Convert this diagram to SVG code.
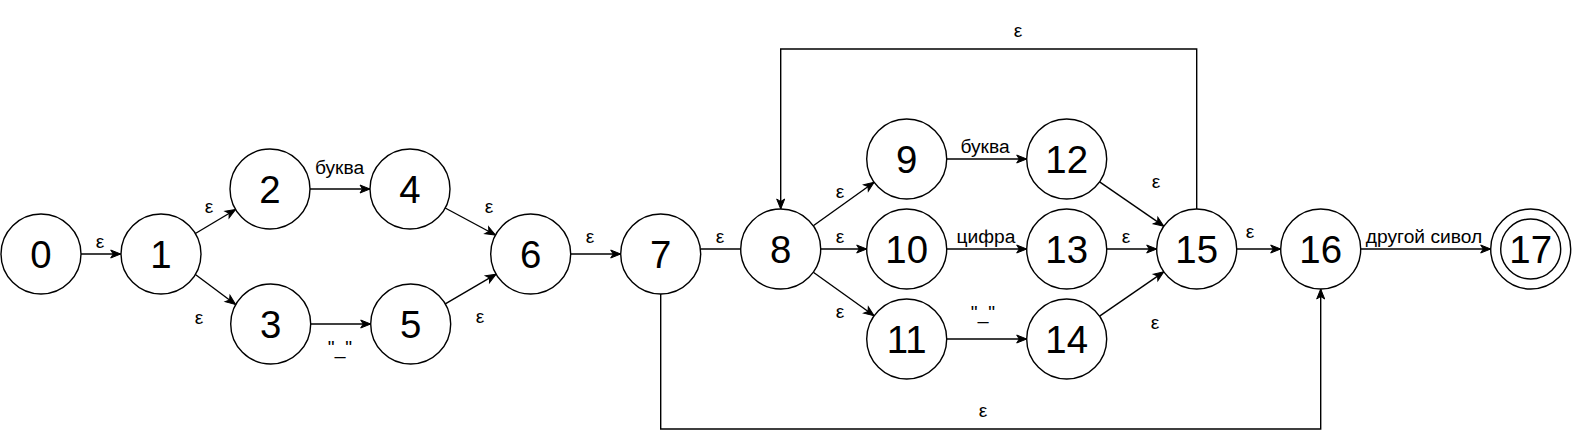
<svg xmlns="http://www.w3.org/2000/svg" width="1572" height="439" viewBox="0 0 1572 439">
<style>
.n{fill:#fff;stroke:#000;stroke-width:1.4}
.nt{font-family:"Liberation Sans",Arial,sans-serif;font-size:38.4px;text-anchor:middle;fill:#000}
.e{fill:none;stroke:#000;stroke-width:1.4}
.a{marker-end:url(#arr)}
.l{font-family:"Liberation Sans",Arial,sans-serif;font-size:19.2px;text-anchor:middle;fill:#000}
</style>
<defs>
<marker id="arr" markerUnits="userSpaceOnUse" markerWidth="12" markerHeight="10" refX="10" refY="4" orient="auto" overflow="visible">
<path d="M0,0 L10,4 L0,8 L2.5,4 Z" fill="#000" stroke="#000" stroke-width="1"/>
</marker>
</defs>
<rect width="1572" height="439" fill="#fff"/>
<g id="connectors">
<line class="e a" x1="81" y1="254" x2="120.7" y2="254"/>
<line class="e a" x1="195.4" y1="233.5" x2="235.6" y2="209.5"/>
<line class="e a" x1="195.4" y1="274.5" x2="235.6" y2="304.5"/>
<line class="e a" x1="310" y1="189" x2="370" y2="189"/>
<line class="e a" x1="310.7" y1="324" x2="370.7" y2="324"/>
<line class="e a" x1="445.2" y1="208" x2="495.5" y2="235"/>
<line class="e a" x1="445.3" y1="303.8" x2="496.1" y2="274.2"/>
<line class="e a" x1="570.7" y1="254" x2="620.7" y2="254"/>
<line class="e" x1="700.7" y1="249" x2="740.7" y2="249"/>
<line class="e a" x1="813.3" y1="225.7" x2="874.1" y2="182.2"/>
<line class="e a" x1="820.7" y1="249" x2="866.7" y2="249"/>
<line class="e a" x1="813.3" y1="272.3" x2="874.1" y2="315.8"/>
<line class="e a" x1="946.7" y1="159" x2="1026.7" y2="159"/>
<line class="e a" x1="946.7" y1="249" x2="1026.7" y2="249"/>
<line class="e a" x1="946.7" y1="339" x2="1026.7" y2="339"/>
<line class="e a" x1="1099.6" y1="181.8" x2="1163.8" y2="226.2"/>
<line class="e a" x1="1106.7" y1="249" x2="1156.7" y2="249"/>
<line class="e a" x1="1099.6" y1="316.2" x2="1163.8" y2="271.8"/>
<line class="e a" x1="1236.7" y1="249" x2="1280.7" y2="249"/>
<line class="e a" x1="1360.7" y1="249" x2="1490.7" y2="249"/>
<polyline class="e a" points="1196.7,209 1196.7,49 780.7,49 780.7,209"/>
<polyline class="e a" points="660.7,294 660.7,429 1320.7,429 1320.7,289"/>
<text class="l" x="100" y="248">ε</text>
<text class="l" x="209" y="213">ε</text>
<text class="l" x="199" y="324">ε</text>
<text class="l" x="339.5" y="174">буква</text>
<text class="l" x="340" y="354">"_"</text>
<text class="l" x="489" y="213">ε</text>
<text class="l" x="480" y="323">ε</text>
<text class="l" x="590" y="243">ε</text>
<text class="l" x="720" y="243">ε</text>
<text class="l" x="840" y="198">ε</text>
<text class="l" x="840" y="243">ε</text>
<text class="l" x="840" y="318">ε</text>
<text class="l" x="985" y="153">буква</text>
<text class="l" x="986" y="243">цифра</text>
<text class="l" x="983" y="319">"_"</text>
<text class="l" x="1156" y="188">ε</text>
<text class="l" x="1126" y="243">ε</text>
<text class="l" x="1155" y="329">ε</text>
<text class="l" x="1250" y="238">ε</text>
<text class="l" x="1424" y="243">другой сивол</text>
<text class="l" x="1018" y="37">ε</text>
<text class="l" x="983" y="417">ε</text>
</g>
<g id="n0"><circle class="n" cx="41" cy="254" r="40"/><text class="nt" x="41" y="267.7">0</text></g>
<g id="n1"><circle class="n" cx="161" cy="254" r="40"/><text class="nt" x="161" y="267.7">1</text></g>
<g id="n2"><circle class="n" cx="270" cy="189" r="40"/><text class="nt" x="270" y="202.7">2</text></g>
<g id="n3"><circle class="n" cx="270.7" cy="324" r="40"/><text class="nt" x="270.7" y="337.7">3</text></g>
<g id="n4"><circle class="n" cx="410" cy="189" r="40"/><text class="nt" x="410" y="202.7">4</text></g>
<g id="n5"><circle class="n" cx="410.7" cy="324" r="40"/><text class="nt" x="410.7" y="337.7">5</text></g>
<g id="n6"><circle class="n" cx="530.7" cy="254" r="40"/><text class="nt" x="530.7" y="267.7">6</text></g>
<g id="n7"><circle class="n" cx="660.7" cy="254" r="40"/><text class="nt" x="660.7" y="267.7">7</text></g>
<g id="n8"><circle class="n" cx="780.7" cy="249" r="40"/><text class="nt" x="780.7" y="262.7">8</text></g>
<g id="n9"><circle class="n" cx="906.7" cy="159" r="40"/><text class="nt" x="906.7" y="172.7">9</text></g>
<g id="n10"><circle class="n" cx="906.7" cy="249" r="40"/><text class="nt" x="906.7" y="262.7">10</text></g>
<g id="n11"><circle class="n" cx="906.7" cy="339" r="40"/><text class="nt" x="906.7" y="352.7">11</text></g>
<g id="n12"><circle class="n" cx="1066.7" cy="159" r="40"/><text class="nt" x="1066.7" y="172.7">12</text></g>
<g id="n13"><circle class="n" cx="1066.7" cy="249" r="40"/><text class="nt" x="1066.7" y="262.7">13</text></g>
<g id="n14"><circle class="n" cx="1066.7" cy="339" r="40"/><text class="nt" x="1066.7" y="352.7">14</text></g>
<g id="n15"><circle class="n" cx="1196.7" cy="249" r="40"/><text class="nt" x="1196.7" y="262.7">15</text></g>
<g id="n16"><circle class="n" cx="1320.7" cy="249" r="40"/><text class="nt" x="1320.7" y="262.7">16</text></g>
<g id="n17"><circle class="n" cx="1530.7" cy="249" r="40"/><circle class="n" cx="1530.7" cy="249" r="30"/><text class="nt" x="1530.7" y="262.7">17</text></g>
</svg>
